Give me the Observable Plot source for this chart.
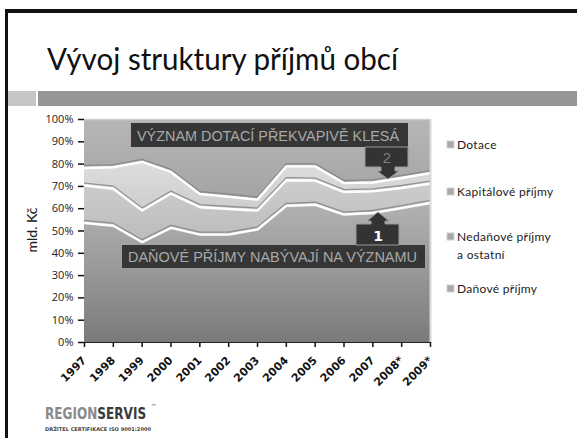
<!DOCTYPE html>
<html><head><meta charset="utf-8">
<script src="https://cdn.jsdelivr.net/npm/d3@7"></script>
<script src="https://cdn.jsdelivr.net/npm/@observablehq/plot@0.6"></script>
<style>
html,body{margin:0;padding:0;background:#fff;}
#slide{position:relative;width:577px;height:438px;overflow:hidden;background:#fff;}
#slide > svg{position:absolute;left:0;top:0;}
</style></head><body>
<div id="slide"></div>
<script>
const years = ["1997","1998","1999","2000","2001","2002","2003","2004","2005","2006","2007","2008*","2009*"];
const seriesNames = ["Daňové příjmy","Nedaňové příjmy a ostatní","Kapitálové příjmy","Dotace"];
// shares in %
const danove     = [53.8, 52.6, 45.2, 51.6, 48.6, 48.6, 50.9, 61.5, 62.0, 57.6, 58.3, 60.5, 62.8];
const nedanove   = [16.8, 16.6, 14.2, 15.4, 12.3, 11.5,  8.5, 11.5, 10.8, 10.1,  9.7,  9.0,  8.7];
const kapitalove = [ 7.9,  9.6, 21.8,  9.7,  5.9,  5.5,  4.9,  6.2,  6.4,  4.0,  4.0,  4.5,  4.7];
const dotace     = [21.5, 21.2, 18.8, 23.3, 33.2, 34.4, 35.7, 20.8, 20.8, 28.3, 28.0, 26.0, 23.8];
const yTicks = [0,10,20,30,40,50,60,70,80,90,100];
const legendLabels = ["Dotace","Kapitálové příjmy",["Nedaňové příjmy","a ostatní"],"Daňové příjmy"];
const title = "Vývoj struktury příjmů obcí";
const note1 = "VÝZNAM DOTACÍ PŘEKVAPIVĚ KLESÁ";
const note2 = "DAŇOVÉ PŘÍJMY NABÝVAJÍ NA VÝZNAMU";
const yLabel = "mld. Kč";

const seriesValues = [danove, nedanove, kapitalove, dotace];
const data = years.flatMap((yr, i) => seriesNames.map((s, k) => ({i, year: yr, series: s, value: seriesValues[k][i]})));
const fills = ["url(#gDan)","url(#gNed)","url(#gKap)","url(#gDot)"];

const chart = Plot.plot({
  width: 577, height: 438,
  marginLeft: 84, marginRight: 147, marginTop: 119, marginBottom: 96,
  style: {background: "transparent", fontFamily: "Lato, 'Open Sans', sans-serif", fontSize: "11px", color: "#222"},
  x: {type: "linear", domain: [0, years.length - 1], ticks: d3.range(years.length), tickFormat: i => years[i], tickRotate: -45, tickSize: 5, tickPadding: 11, line: true, label: null},
  y: {domain: [0, 100], ticks: yTicks, tickFormat: d => d + "%", tickSize: 6, tickPadding: 5, line: true, label: null},
  color: {domain: seriesNames, range: fills},
  marks: [
    Plot.areaY(data, Plot.stackY({x: "i", y: "value", z: "series", order: seriesNames, fill: "series"})),
    Plot.lineY(data, Plot.stackY2({x: "i", y: "value", z: "series", order: seriesNames, filter: d => d.series !== "Dotace", stroke: "#7e7e7e", strokeWidth: 1.3, strokeOpacity: 0.75, dy: -2})),
    Plot.lineY(data, Plot.stackY2({x: "i", y: "value", z: "series", order: seriesNames, filter: d => d.series !== "Dotace", stroke: "#ffffff", strokeWidth: 2.4, dy: 0.5})),
    Plot.ruleX([years.length - 1], {stroke: "#d8d8d8", strokeWidth: 2}),
    Plot.ruleY([100], {stroke: "#d0d0d0", strokeWidth: 1.5})
  ]
});

const svg = d3.select(chart);
const defs = svg.insert("defs", ":first-child");
function grad(id, stops) {
  const g = defs.append("linearGradient").attr("id", id).attr("x1", 0).attr("y1", 0).attr("x2", 0).attr("y2", 1);
  stops.forEach(([o, c]) => g.append("stop").attr("offset", o).attr("stop-color", c));
}
grad("gDan", [[0, "#b2b2b2"], [0.5, "#989898"], [1, "#7a7a7a"]]);
grad("gNed", [[0, "#cdcdcd"], [1, "#bcbcbc"]]);
grad("gKap", [[0, "#dedede"], [1, "#cdcdcd"]]);
grad("gDot", [[0, "#b6b6b6"], [1, "#a4a4a4"]]);

// axis styling
svg.selectAll('[aria-label^="x-axis"] text').attr("font-weight", "bold").attr("font-size", 11).attr("font-family", "'DejaVu Sans', sans-serif").attr("fill", "#111");
svg.selectAll('[aria-label^="y-axis"] text').attr("font-size", 11).attr("font-family", "'Open Sans', sans-serif").attr("fill", "#222");
svg.selectAll('[aria-label^="x-axis"] path, [aria-label^="y-axis"] path, [aria-label^="x-axis"] line, [aria-label^="y-axis"] line').attr("stroke", "#111").attr("stroke-width", 1.5);

document.getElementById("slide").appendChild(chart);

// decoration overlay
const deco = d3.select("#slide").append("svg").attr("width", 577).attr("height", 438)
  .style("font-family", "Lato, 'Open Sans', sans-serif");
// slide frame
deco.append("rect").attr("x", 5).attr("y", 9).attr("width", 572).attr("height", 4).attr("fill", "#111");
deco.append("rect").attr("x", 5).attr("y", 9).attr("width", 3).attr("height", 429).attr("fill", "#111");
deco.append("rect").attr("x", 8).attr("y", 91).attr("width", 28).attr("height", 15).attr("fill", "#c6c6c6");
deco.append("rect").attr("x", 38).attr("y", 91).attr("width", 539).attr("height", 15).attr("fill", "#969696");
// title
deco.append("text").attr("x", 47).attr("y", 70).attr("font-size", 30).attr("fill", "#111")
  .attr("textLength", 351).attr("lengthAdjust", "spacingAndGlyphs").text(title);
// y label
deco.append("text").attr("transform", "translate(37,230) rotate(-90)").attr("text-anchor", "middle")
  .attr("font-size", 14).attr("font-weight", 500).attr("fill", "#222").text(yLabel);

// annotation boxes
deco.append("rect").attr("x", 131).attr("y", 123).attr("width", 277).attr("height", 24).attr("fill", "#363636");
deco.append("text").attr("x", 137).attr("y", 141).attr("font-size", 14).attr("fill", "#a9a9a9")
  .attr("font-family", "'Liberation Sans', sans-serif").attr("textLength", 262).attr("lengthAdjust", "spacingAndGlyphs").text(note1);
deco.append("rect").attr("x", 122).attr("y", 245).attr("width", 303).attr("height", 23).attr("fill", "#363636");
deco.append("text").attr("x", 128).attr("y", 262).attr("font-size", 14).attr("fill", "#a9a9a9")
  .attr("font-family", "'Liberation Sans', sans-serif").attr("textLength", 289).attr("lengthAdjust", "spacingAndGlyphs").text(note2);
// arrow 2 (down)
deco.append("path").attr("d", "M365,147 H408 V167 H395 V171 H399 L388,179 L377,171 H381 V167 H365 Z")
  .attr("fill", "#333").attr("stroke", "#9a9a9a").attr("stroke-width", 1);
deco.append("text").attr("x", 387).attr("y", 163).attr("text-anchor", "middle").attr("font-size", 15)
  .attr("fill", "#808080").attr("font-family", "'Liberation Sans', sans-serif").text("2");
// arrow 1 (up)
deco.append("path").attr("d", "M378,212 L389,221 H385 V224 H399 V245 H356 V224 H371 V221 H367 Z")
  .attr("fill", "#333").attr("stroke", "#9a9a9a").attr("stroke-width", 1);
deco.append("text").attr("x", 378).attr("y", 241).attr("text-anchor", "middle").attr("font-size", 14)
  .attr("font-weight", "bold").attr("fill", "#fff").attr("font-family", "'DejaVu Sans', sans-serif").text("1");

// legend
const legendY = [[149], [196], [241, 259], [293]];
legendLabels.forEach((lab, k) => {
  const ys = legendY[k];
  deco.append("rect").attr("x", 447).attr("y", ys[0] - 8).attr("width", 7).attr("height", 7)
    .attr("fill", "#a8a8a8").attr("stroke", "#d0d0d0").attr("stroke-width", 1);
  const lines = Array.isArray(lab) ? lab : [lab];
  lines.forEach((t, j) => deco.append("text").attr("x", 457).attr("y", ys[j]).attr("font-size", 12)
    .attr("fill", "#222").attr("letter-spacing", 0.3).text(t));
});

// logo
const logo = deco.append("g").attr("transform", "translate(45,419) scale(0.84,1)")
  .attr("font-family", "'DejaVu Sans Condensed', 'DejaVu Sans', sans-serif").attr("font-weight", "bold").attr("font-size", 16);
const lt = logo.append("text");
lt.append("tspan").attr("fill", "#8a8a8a").text("REGION");
lt.append("tspan").attr("fill", "#3a3a3a").text("SERVIS");
deco.append("text").attr("x", 151).attr("y", 408).attr("font-size", 6).attr("fill", "#777").text("™");
deco.append("text").attr("x", 45).attr("y", 431).attr("font-size", 5).attr("font-weight", "bold").attr("fill", "#444")
  .attr("font-family", "'DejaVu Sans Condensed', 'DejaVu Sans', sans-serif").attr("textLength", 106).attr("lengthAdjust", "spacingAndGlyphs")
  .text("DRŽITEL CERTIFIKACE ISO 9001:2000");
</script>
</body></html>
